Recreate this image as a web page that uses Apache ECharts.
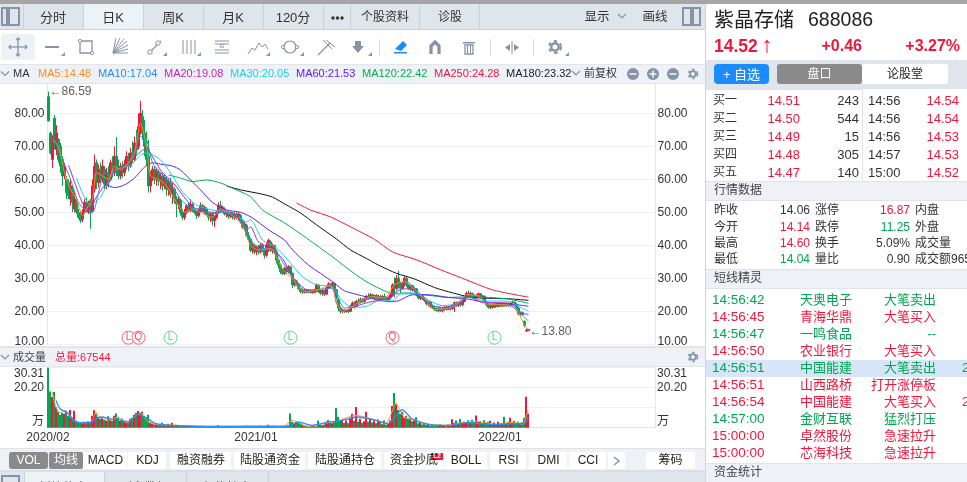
<!DOCTYPE html>
<html><head><meta charset="utf-8">
<script src="https://cdn.jsdelivr.net/npm/echarts@6/dist/echarts.min.js"></script>
<style>html,body{margin:0;padding:0;background:#fff;overflow:hidden}#c{width:967px;height:482px}</style>
</head><body><div id="c"></div>
<script>
// [open, close, low, high]
const candles=[[85,77.7,77.5,86.59],[74,68,67.5,74.5],[66,72,63.4,73.4],[78.5,71,69,79.5],[69,74,67.4,76.4],[72,66,65,72.5],[70,64,62,71],[66,61,58,67],[61,64,60,65],[60,56,54,61],
[59,55,54,60],[54,58,52,60],[57,53,50,58],[51,54,50,56],[53,50,49.5,54.5],[50,48.5,48,51],[49,47.5,46.8,50.5],[48,50,47,51],[50,53,49.5,54],[53,50.5,50,54.5],
[50,52.5,49.5,53.5],[53.5,50,45,54],[50.5,58,50,60],[57,64,56,67.5],[65,59,57,66],[59,63,57.5,64.5],[63,60,58.5,65],[60,64,59,66],[63,58.5,57,64],[58,62,57,63.5],
[62,59,57.5,64],[60,65,59.5,66],[65,62,60.5,67],[62,67,61,70],[67,63,61,72.8],[63,61,60,66],[61,64,60,65],[64,62,60.5,65.5],[62,64.5,61,66],[64,67,63,68.5],
[67,64,62.5,68],[64,68,63.5,69.5],[68,66,65,71.5],[66,71,65.5,73],[71,69,67.5,75],[70,76,69,80],[75,80,73.5,83.8],[79,74,72,81],[74,70,67,78],[70,66,64,74.5],
[67,58,56,72],[58,61,56,62.5],[61,63,59.5,64],[63,60,58.5,64],[60,62.5,58,63.5],[62,59.5,58,63],[59.5,61,57,62],[61,58,56.5,62],[58,60.5,57,61.5],[60,57,55,61],
[57,59,55,60],[59,55.5,54.5,60.5],[55.5,57,52.5,58.8],[57,54,52.7,57.5],[54,52.5,48.5,55],[52.5,54,51,54.7],[53.5,50,49,54],[50,48.5,47.7,51],[48.5,50,47.7,51],[50,52,49.5,52.5],
[52,50.5,50,53],[50.5,52.5,50,54],[52.5,51,50,53],[51,50,49.5,51.5],[50,49,48,50.5],[49,50.5,48.5,51],[50.5,52,50,53],[52,50.5,50,52.5],[50.5,51.5,49.5,52],[51,49.5,49,51.5],
[49.5,48.5,47.5,50],[48.5,49.5,47,50],[49.5,47.5,46,50],[47.5,48.5,45.5,49],[48.5,50,48,50.5],[50,52,49.5,53],[52,50.5,50,53.5],[50.5,51.5,50,52],[51,49.5,49,51.5],[49.5,50.3,48.5,50.5],
[50,48.8,48,50.3],[48.8,49.8,48.3,50.2],[49.5,48.5,47.8,50],[48.5,49.5,47.7,50],[49.5,48.5,48,50],[48.5,49.5,47.8,50],[49,47.5,47,49.5],[47.5,45.5,45,48],[45.5,46.5,44.5,47],[46,43,42.5,46.5],
[43,41.8,41.5,44],[41.8,38.5,38,42],[38.5,40,37.5,40.6],[40,38,37.3,40.5],[38,39.5,37,40],[39.5,38,37.2,40.2],[38,40,37.5,40.5],[40,38.5,38,40.6],[38.5,37,36,39],[37,40,36.5,41],
[40,41.5,38,42],[41,38.5,38,41.5],[38.5,40,37.5,40.5],[40,38,37.5,40],[38,35.5,34.5,38.6],[35.5,34,33,36],[34,32,31.3,34.5],[32,31.5,31,32.8],[31.5,33,31,33.5],[33,32,31.5,33.5],
[32,33.5,31.5,34],[33.5,31.5,31,33.8],[31.5,28,27,31.8],[28,29.5,27.5,29.8],[29,28,27.8,29.5],[28,26.8,26.5,28.5],[26.8,26,25.5,27],[26,26.5,25.3,26.8],[26.5,25.8,25.4,26.8],[25.8,26.5,25.5,26.7],
[26.5,25.8,25.5,26.8],[25.8,26.3,25.4,26.6],[26.3,25.7,25.3,26.5],[25.7,26.5,25.5,26.8],[26.5,28,26,28.4],[28,26,25.6,28.2],[26,25.5,25,26.5],[25.5,26.3,24.7,26.6],[26.3,25.2,24.6,26.5],[25.2,27,25,27.5],
[27,28.3,26.8,28.8],[28.3,27.5,27,28.6],[27.5,28.4,27,29],[28.4,26.5,26,28.6],[26.5,24,23.5,26.8],[23.5,21,20,24],[21,20,19.3,21.5],[20,20.4,19.5,20.8],[20.4,19.9,19.5,20.6],[19.9,20.3,19.6,20.5],
[20.3,20,19.5,20.6],[20,21.5,19.8,22],[21.5,22.5,21,23],[22.5,21.5,20.8,23],[21.5,23,21.3,23.5],[23,22.8,22.4,24],[22.8,23.5,22.4,24.2],[23.5,23,22.6,24],[23,23.8,22.6,24.2],[23.8,24.5,23.4,25],
[24.5,24,23.5,25.5],[24,25,23.7,25.5],[25,24,23.6,25.3],[24,24.8,23.4,25],[24.8,24,23.5,25.2],[24,24.5,23.5,25],[24.5,23.6,23,25],[23.6,24.5,23.2,25],[24.5,24,23.4,25.4],[24,23.5,23,24.5],
[23.5,24.2,23,24.6],[24.2,25,23.6,25.5],[25,28,24.5,28.5],[28,27,24.2,30.3],[27,30,26.5,31],[30,28,27,32.3],[28,27,25.5,29],[27,28.5,26.5,29],[28.5,30,27.5,30.8],[30,28,27.3,30.5],
[28,27,26.5,28.3],[27,27.8,26.2,28.1],[27.8,26.5,26,28],[26.5,26.8,25.8,27.3],[26.8,25,24.5,27],[25,24,23.6,25.3],[24,24.7,23.4,25],[24.7,24,23.5,25],[24,23.2,22.8,24.3],[23.2,22.2,21.8,23.5],
[22.2,22.8,21.5,23],[22.8,21.5,21,23],[21.5,21,20.8,22],[21,20.5,20.2,21.3],[20.5,20.2,19.9,21],[20.2,20.8,19.7,21],[20.8,20.2,19.8,21],[20.2,20.6,19.7,20.8],[20.6,21.2,20.2,21.5],[21.2,20.6,20.2,21.7],
[20.6,21.2,20.3,21.7],[21.2,20.8,20.2,21.6],[20.8,21.8,20.5,22.2],[21.8,22.6,19.8,23],[22.6,21.8,21.3,23],[21.8,22.6,21.3,23],[22.6,22,21.5,23],[22,23,21.5,23.4],[23,24.5,22.8,25],[24.5,25.5,24.2,26],
[25.5,24.6,24.2,26.3],[24.6,25.4,24.2,26],[25.4,24.5,24.2,25.7],[24.5,24,23.7,25],[24,24.8,23.8,25.2],[24.8,25.3,24.4,25.7],[25.3,24.2,23.8,25.5],[24.2,24.6,23.7,25],[24.6,22.8,22.5,24.8],[22.8,22,21.5,23],
[22,21.2,20.8,22.3],[21.2,21.8,20.7,22.2],[21.8,21.2,20.8,22.2],[21.2,22,21,22.4],[22,21.5,21.2,22.5],[21.5,22.2,21.2,22.7],[22.2,21.6,21.3,22.6],[21.6,22.2,21.3,22.7],[22.2,21.7,21.4,22.6],[21.7,22.3,21.4,22.7],
[22.3,21.8,21.3,22.7],[21.8,22.4,21.5,22.9],[22.4,22.8,22,23.2],[22.8,22.1,21.7,23],[22.1,21,20.7,22.5],[21,19.2,18.8,21.2],[19.2,19.6,18.7,20],[19.6,19,18.7,20],[17,15.8,15.2,17.2],[14,14.2,13.8,14.8],
[14.14,14.52,14.04,14.6]];
const volumes=[30.3,18.3,15.5,18,10.5,8,6.5,7.5,7,8.5,
6,9,5,8.5,3.5,3,2.6,2.3,3,2.5,
3.2,2.4,6,8.8,7,5.5,4.5,5,4,3.5,
5.8,4,3.5,6,7.2,5,3.5,4.5,3,3.5,
2.5,4.5,5,6.5,7.5,8.4,7.5,8,6,5,
6.5,3,2.5,1.8,2.2,1.5,1.8,2.5,1.6,1.2,
2,1.5,2.5,1.3,1.5,1.1,1,1.4,1.2,1,
1.3,.9,1.1,.8,1,.6,.7,1,.5,.8,
.6,.9,.7,.5,.8,1.2,.6,.5,.7,.9,
.5,.6,.4,.7,.5,.8,.6,.9,.7,1.1,
.9,.7,1,.6,.8,.7,1.1,.8,.6,1,
1.5,.9,.7,.8,.6,.9,.7,.5,.8,1,
1.2,7.2,3,2.2,2.6,2.8,2.4,1.5,.9,.7,
.8,.6,.9,.7,.6,3.5,1.8,1.2,1.6,2.4,
3.8,2.6,2.2,3,10,5.5,3.4,4,2.4,3.6,
2.2,5,7,3.5,10.5,3,4.5,2.4,3.2,8,
3,4.8,2.6,3.8,2.2,4.2,3,1.8,3.6,1.5,
2.4,3.6,11,17.5,12,9,7,8,5,6,
4.5,4.8,3.2,3.8,5.3,2.2,3,1.6,2.4,1.4,
2,1,1.6,.8,1.5,1.2,1.8,.9,1.3,.7,
1.6,1,4.3,2.2,3.6,2.4,4.4,2,3,2.6,
3.8,2.5,4,2.7,6.2,2.8,3.4,2.2,3.7,2.4,
3,3.5,1.8,2.6,1.6,3,2,2.4,5.5,2.2,
3,5,2.6,3.5,2.2,3,2.4,2.8,5,15.6,
7];
// moving averages: [candle index, value]
const ma5=[[2,72],[5,70],[8,62],[11,57],[14,54],[17,49],[20,52],[22,54],[24,62],[27,61],[30,60],[33,64],[36,63],[40,65],[43,68],[46,77],[49,70],[51,61],[55,60],[59,58],[64,53],[68,50],[72,51],[76,50],[82,48.5],[86,51],[92,49],[97,46],[101,40],[105,38.5],[111,39],[115,35],[118,32],[122,30],[125,27],[129,26],[135,26.5],[141,28],[144,23],[147,20],[151,21],[156,23.2],[162,24.5],[168,24],[173,28],[178,29],[183,26.5],[188,23.8],[193,20.5],[199,20.8],[204,22],[209,25],[215,24.6],[220,22],[228,22],[234,20.5],[237,17],[239,15],[240,14.48]];
const ma10=[[3,72],[7,66],[11,60],[15,53],[18,51],[22,50],[25,56],[28,62],[31,61],[35,63],[38,64],[42,66],[46,73],[49,72],[52,65],[56,62],[61,59],[66,54],[71,51.5],[76,51],[81,49.5],[86,50],[92,49.8],[97,47],[101,42],[105,39],[111,39],[116,36],[119,33],[123,29.5],[128,26.5],[133,26.5],[141,27],[144,25],[148,21],[153,21.5],[158,23.3],[165,24.3],[171,24],[175,27],[179,29],[183,27],[188,24],[193,21.5],[200,20.8],[205,22],[210,25],[216,24.6],[221,22],[228,22],[233,21.5],[237,18.8],[240,17.04]];
const ma20=[[10,64.3],[13,59.2],[17,52.8],[20,50.7],[24,54.7],[30,59.8],[33,62.2],[40,65],[46,68.3],[49,69.5],[52,66.8],[57,62],[62,59.2],[69,53.7],[74,50.7],[82,50],[92,49.9],[99,44.6],[101,45.6],[105,41],[111,39.2],[117,36],[122,30.5],[129,26.5],[136,26],[142,27.4],[144,22.4],[148,20.2],[153,21.4],[160,22.7],[168,23.7],[172,24.7],[177,26.8],[182,26.5],[187,23.7],[192,21.7],[198,21.2],[205,22.4],[210,24.4],[217,22.7],[230,22.4],[235,19.7],[240,19.08]];
const ma30=[[14,60.4],[17,55.8],[21,52.2],[26,54.7],[30,59.3],[33,62.8],[41,64.3],[46,67.4],[49,68],[56,65.9],[61,62],[67,56.2],[74,52.2],[82,50.7],[92,49.8],[99,47.1],[101,47.7],[107,41.6],[114,39.2],[121,34.6],[127,30.5],[134,28],[142,27.4],[146,23.8],[150,21.7],[155,21.2],[160,21.7],[165,23.2],[172,23.2],[177,25.8],[183,25.5],[190,23.4],[197,21.7],[203,22.2],[210,24.2],[218,23.2],[230,23],[236,21.2],[240,20.05]];
const ma60=[[29,58.3],[33,57.5],[38,58.3],[43,60.4],[48,63.7],[52,65],[56,64.6],[62,64],[66,62.8],[72,59.2],[76,56.8],[82,53],[89,50.7],[96,50],[102,48.3],[110,44.7],[118,41.6],[122,38.6],[130,34],[136,31.5],[143,28.5],[148,26.2],[153,25.3],[160,24.2],[165,23.4],[171,22.9],[175,23.2],[182,25],[190,25],[200,24.2],[210,23.7],[218,22.7],[227,22.4],[234,22],[240,21.53]];
const ma120=[[60,61.3],[66,60.4],[72,59.3],[79,59.8],[86,58.9],[92,57.3],[101,54.7],[107,50.7],[118,46.8],[129,42.2],[142,36.5],[153,31.4],[160,28.6],[168,26.2],[173,25.3],[182,25.3],[192,24.7],[200,24.2],[210,24.4],[220,24.2],[230,23.7],[240,22.42]];
const ma180=[[89,58],[96,56.8],[106,55.6],[112,54.6],[119,52.2],[126,49.8],[134,46.2],[144,41.9],[151,38.6],[159,36],[165,34],[174,31.5],[183,29.8],[193,27.2],[202,25.6],[210,24.4],[218,24],[230,23.8],[240,23.32]];
const ma250=[[124,52.8],[131,50.7],[141,48.6],[151,45.6],[163,41.8],[172,38],[184,35.6],[196,32.6],[207,30],[222,26.5],[240,24.28]];
const volMaA=[[2,18.3],[4,10.4],[6,7.6],[8,8.7],[11,5.4],[15,2.5],[20,2.5],[22,3.7],[24,7.9],[26,5.4],[30,3.7],[35,5.4],[39,2.5],[43,5.4],[46,7.4],[50,2.9],[55,1.5],[65,1.2],[82,.7],[100,.8],[118,.9],[122,3.7],[130,.7],[137,2],[144,3.2],[154,6.2],[160,4.9],[169,2.5],[174,12.1],[178,5.4],[184,3.7],[192,1.5],[200,1.2],[207,2.5],[215,3.2],[224,1.7],[234,2.9],[237,1.5],[240,8.8]];
const volMaB=[[4,13.8],[6,9.6],[10,7.4],[13,3.7],[16,2.5],[21,2.5],[24,4.5],[27,5.4],[31,4.5],[35,4.2],[40,2.9],[45,6.6],[50,4.5],[54,2],[62,1.2],[79,.7],[99,.7],[120,.7],[125,2.9],[132,1.2],[139,2.5],[147,3.7],[155,5.4],[164,3.7],[170,2],[174,6.2],[177,9.1],[182,4.5],[190,1.7],[200,1.2],[210,2.5],[220,1.7],[234,2],[238,2],[240,5.4]];
const tickLabels={0:'2020/02',104:'2021/01',226:'2022/01'};
const priceTicks={10:'10.00',20:'20.00',30:'30.00',40:'40.00',50:'50.00',60:'60.00',70:'70.00',80:'80.00'};
const markers=[[40,'L','r'],[45,'Q','r'],[61,'L','g'],[121,'L','g'],[172,'Q','r'],[223,'L','g']];
const extremes=[[0,86.59,'←86.59'],[240,13.8,'←13.80']];
const tabs=['分时','日K','周K','月K','120分'];
const legendTexts=['MA5:14.48','MA10:17.04','MA20:19.08','MA30:20.05','MA60:21.53','MA120:22.42','MA250:24.28','MA180:23.32'];
const indicatorTabs=['MACD','KDJ','融资融券','陆股通资金','陆股通持仓','资金抄底','BOLL','RSI','DMI','CCI'];
const bidRows=[['买一','14.51','243','14:56','14.54'],['买二','14.50','544','14:56','14.54'],['买三','14.49','15','14:56','14.53'],['买四','14.48','305','14:57','14.53'],['买五','14.47','140','15:00','14.52']];
const statRows=[['昨收','14.06','涨停','16.87','内盘'],['今开','14.14','跌停','11.25','外盘'],['最高','14.60','换手','5.09%','成交量'],['最低','14.04','量比','0.90','成交额965']];
const spriteRows=[['14:56:42','天奥电子','大笔卖出',0,''],['14:56:45','青海华鼎','大笔买入',1,''],['14:56:47','一鸣食品','--',0,''],['14:56:50','农业银行','大笔买入',1,''],['14:56:51','中国能建','大笔卖出',0,'2'],['14:56:51','山西路桥','打开涨停板',1,''],['14:56:54','中国能建','大笔买入',1,'2'],['14:57:00','金财互联','猛烈打压',0,''],['15:00:00','卓然股份','急速拉升',1,''],['15:00:00','芯海科技','急速拉升',1,'']];

const FF='"Liberation Sans","Noto Sans CJK SC",sans-serif';
const RED='#f5153a',GRN='#00a651',INK='#333',ICO='#8593a8',BAR='#eef2f6',TAB='#dfe5eb',LINE='#d5dbe2';
const categories=Array.from({length:304},(_,i)=>tickLabels[i]||'');
const G=[];
function T(x,y,text,o={}){G.push({type:'text',x,y,z:110,silent:true,style:{text,fill:o.c||INK,fontSize:o.s||12,fontWeight:o.w||'normal',fontFamily:FF,align:o.a||'left',verticalAlign:'middle'}});}
function R(x,y,w,h,fill,o={}){G.push({type:'rect',z:o.z||100,silent:true,shape:{x,y,width:w,height:h,r:o.r||0},style:{fill:fill,stroke:o.st||null,lineWidth:o.lw||1}});}
function P(pts,o={}){G.push({type:'polyline',z:105,silent:true,shape:{points:pts},style:{stroke:o.c||ICO,lineWidth:o.lw||1.3,fill:null}});}
function C(x,y,r,o={}){G.push({type:'circle',z:o.z||105,silent:true,shape:{cx:x,cy:y,r},style:{fill:o.f||null,stroke:o.c||null,lineWidth:o.lw||1,lineDash:o.d||null}});}
function gear(x,y,s){C(x,y,s*0.62,{c:ICO,lw:s*0.4});C(x,y,s,{c:ICO,lw:s*0.35,d:[s*0.55,s*0.55]});}
function corner(x,y){G.push({type:'polygon',z:105,silent:true,shape:{points:[[x,y+4],[x+4,y],[x+4,y+4]]},style:{fill:ICO}});}
function chevron(x,y,c){P([[x-4,y-2],[x,y+2],[x+4,y-2]],{c:c||ICO,lw:1.2});}
function toggle(x){R(x,8,17,17,'none',{st:ICO,lw:2,z:105});}

// top bars
R(0,0,967,4,'#a6a6a6',{z:120});
R(0,4,705,25,TAB);
R(0,29,705,36,'#fff');
R(83,4,60,25,'#edf2f7');
[23,83,143,203,263,323,350,419,479].forEach(x=>R(x,4,1,25,'#c9d1da',{z:101}));
R(0,29,705,1,'#c9d1da',{z:101});
toggle(2);R(6,9,4,15,ICO,{z:106});
tabs.forEach((t,i)=>T(53+60*i,18,t,{s:13,a:'center'}));
[333,337.5,342].forEach(x=>C(x,18,1.7,{f:'#333'}));
T(385,18,'个股资料',{s:12,a:'center'});T(450,18,'诊股',{s:12,a:'center'});
T(597,18,'显示',{s:12.5,a:'center'});chevron(622,16);T(655,18,'画线',{s:12.5,a:'center'});
toggle(683);R(690,9,4,15,ICO,{z:106});

// toolbar icons
R(1,34,34,26,BAR,{r:3});
P([[9,47],[27,47]]);P([[18,38],[18,56]]);P([[11,45],[9,47],[11,49]]);P([[25,45],[27,47],[25,49]]);P([[16,40],[18,38],[20,40]]);P([[16,54],[18,56],[20,54]]);
P([[45,47],[59,47]],{lw:2});corner(61,52);
G.push({type:'rect',z:105,silent:true,shape:{x:80,y:41,width:12,height:12},style:{fill:null,stroke:ICO,lineWidth:1.3}});C(80,41,1.6,{f:'#fff',c:ICO});C(92,53,1.6,{f:'#fff',c:ICO});
[[127,41],[124,39],[120,38],[116,38],[128,45],[128,49],[128,53]].forEach(p=>P([[113,53],p],{lw:1}));
P([[148,54],[161,41]]);C(150,52,2.2,{f:'#fff',c:ICO});C(158,43,2.2,{f:'#fff',c:ICO});corner(163,52);
[183,187,191,195].forEach(x=>P([[x,40],[x,54]],{lw:1}));corner(197,52);
[41,44,50,53].forEach(y=>P([[215,y],[229,y]],{lw:1}));T(222,46.5,'G',{s:6,a:'center',c:ICO,w:'bold'});
P([[248,54],[252,48],[255,50],[259,43],[262,47],[265,44],[268,49]],{lw:1});corner(266,52);
C(290,47,6,{c:ICO,lw:1.2});C(283,47,1.6,{f:'#fff',c:ICO});C(297,47,1.6,{f:'#fff',c:ICO});corner(300,52);
P([[318,55],[330,43]]);P([[323,40],[332,49]],{lw:1});P([[326,40],[335,47]],{lw:1});
R(355,41,6,6,ICO);G.push({type:'polygon',z:105,silent:true,shape:{points:[[352,46],[364,46],[358,53]]},style:{fill:ICO}});corner(368,52);
R(379,39,1,17,LINE);
G.push({type:'polygon',z:105,silent:true,shape:{points:[[395,49],[403,41],[407,45],[401,51]]},style:{fill:'#1a8cff'}});R(394,52,13,1.5,'#1a8cff');
P([[431,54],[431,46],[435,42],[439,46],[439,54]],{lw:3.2});
R(463,42,12,1.5,ICO);R(465,45,8,9,'none',{st:ICO,lw:1.3,z:105});P([[467.5,46],[467.5,53]],{lw:1});P([[470.5,46],[470.5,53]],{lw:1});
R(490,39,1,17,LINE);R(533,39,1,17,LINE);
P([[512,41],[512,54]],{lw:1});G.push({type:'polygon',z:105,silent:true,shape:{points:[[505,47.5],[510,44],[510,51]]},style:{fill:ICO}});G.push({type:'polygon',z:105,silent:true,shape:{points:[[519,47.5],[514,44],[514,51]]},style:{fill:ICO}});
gear(555,47,6);corner(565,52);

// MA row
R(0,64,705,20,BAR);R(0,64,705,1,'#e2e5e9',{z:101});R(0,83,705,1,'#e2e5e9',{z:101});
chevron(5,73.5);T(13,73.5,'MA',{s:11});
const legendX=[38,98,164,230,296,362,434,506],legendC=['#ff8c1a','#1e90ff','#c71fb5','#16d4ee','#5a1fff','#00b050',RED,'#222'];
legendTexts.forEach((t,i)=>T(legendX[i],74,t,{s:11,c:legendC[i]}));
chevron(576,73);T(584,74,'前复权',{s:11});
[633,653,673].forEach((x,i)=>{C(x,74,6,{f:ICO});R(x-3.5,73.3,7,1.4,'#fff',{z:106});if(i==1)R(x-0.7,70.5,1.4,7,'#fff',{z:106});});
gear(693,74,4.5);

// axis side columns & volume header
R(0,346,705,21,BAR,{z:99});R(0,346,705,2,'#e3e5e8',{z:101});R(0,366,705,1,'#e3e5e8',{z:101});
chevron(5,357);T(13,357.5,'成交量',{s:11,c:'#444'});T(55,357.5,'总量:67544',{s:11,c:RED});gear(693,357,4.5);

// indicator row
R(0,448,705,24,'#eef2f6');R(0,448,705,1,'#dfe3e8',{z:101});R(0,470,705,2,'#d9dfe6',{z:101});
R(9,452,39,17,'#8a8a8a',{r:3});R(49,452,34,17,'#8a8a8a',{r:2});
T(28.5,461,'VOL',{a:'center',c:'#fff',s:12});T(66,461,'均线',{a:'center',c:'#fff',s:12});
const indX=[[83,128],[128,167],[170,232],[234,306],[308,382],[384,444],[444,488],[490,527],[529,568],[569,607]];
indicatorTabs.forEach((t,i)=>{const a=indX[i];R(a[0],452,a[1]-a[0]-1,17,'#fff');T((a[0]+a[1])/2,461,t,{a:'center',s:12,c:'#222'});});
R(431,453,12,7,'#f5153a');T(437,456.5,'L2',{a:'center',s:6.5,c:'#fff',w:'bold'});
R(608,452,17,17,'#fff');P([[614,457],[619,461],[614,465]],{c:ICO,lw:1.6});
R(646,452,49,17,'#fff',{r:3});T(670.5,461,'筹码',{a:'center',s:12,c:'#222'});

// bottom cut tabs
R(0,472,705,10,TAB);R(24,472,80,10,'#edf2f7');[24,104,186,268].forEach(x=>R(x,472,1,10,'#c9d1da',{z:101}));
R(2,476,17,10,'none',{st:ICO,lw:2,z:105});
['板块热点','财务数据','机构持仓'].forEach((t,i)=>T([63,145,227][i],489,t,{a:'center',s:12}));

// right panel
R(705,4,262,478,'#fff',{z:98});R(705,4,1,478,'#cfd5dc',{z:101});
T(714,21,'紫晶存储',{s:20,c:'#222'});T(808,21,'688086',{s:19.5,c:'#222'});
T(714,47,'14.52',{s:17.5,c:RED,w:'bold'});T(767,46,'↑',{s:22,c:RED,a:'center'});
T(862,47,'+0.46',{s:16,c:RED,a:'right',w:'bold'});T(960,47,'+3.27%',{s:16,c:RED,a:'right',w:'bold'});
R(706,60,261,29,TAB);
R(714,64,55,20,'#1a8cff',{r:4,z:101});T(741.5,75,'+ 自选',{a:'center',c:'#fff',s:13});
R(777,64,85,20,'#8a8a8a',{r:3,z:101});T(819.5,75,'盘口',{a:'center',c:'#fff',s:12});
R(862,64,86,20,'#fff',{r:3,z:101});T(905,75,'论股堂',{a:'center',s:12,c:'#222'});
R(862,89,1,92,'#dfe3e8',{z:101});R(706,89,156,1,'#dfe3e8',{z:101});
bidRows.forEach((r,i)=>{const y=101+18*i;T(713,y,r[0],{s:12});T(800,y,r[1],{s:13,c:RED,a:'right'});T(859,y,r[2],{s:13,a:'right'});T(868,y,r[3],{s:13});T(959,y,r[4],{s:13,c:RED,a:'right'});});
function section(y,t){R(706,y-10,261,20,BAR,{z:100});R(706,y-10,261,1,'#e0e4e9',{z:101});R(706,y+9,261,1,'#e0e4e9',{z:101});T(714,y,t,{s:12,c:'#444'});}
section(191,'行情数据');
const statY=[211,228,244,260];
statRows.forEach((r,i)=>{const y=statY[i];T(714,y,r[0],{s:12});T(810,y,r[1],{s:12,a:'right',c:i==0?INK:(i==1||i==2?RED:GRN)});T(815,y,r[2],{s:12});T(910,y,r[3],{s:12,a:'right',c:i==0?RED:(i==1?GRN:INK)});T(915,y,r[4],{s:12});});
section(279,'短线精灵');
const spriteY=[300,317.5,334.5,351,368.5,385.5,402.5,419.5,436.5,453];
R(706,360,261,17,'#d6e6f8',{z:100});
spriteRows.forEach((r,i)=>{const y=spriteY[i],c=r[3]?RED:GRN;T(712,y,r[0],{s:13.5,c});T(826,y,r[1],{s:13,c,a:'center'});T(936,y,r[2],{s:13,c,a:'right'});if(r[4])T(962,y,r[4],{s:13,c});});
section(473,'资金统计');

const ml=(name,data,color,xi,yi,w)=>({name,type:'line',data,xAxisIndex:xi,yAxisIndex:yi,showSymbol:false,smooth:0.25,lineStyle:{color,width:w||1},itemStyle:{color},z:5,silent:true,animation:false});
const baseX=(gi,show)=>({type:'category',gridIndex:gi,data:categories,boundaryGap:true,
  axisTick:{show:false},splitLine:{show:false},
  axisLine:{show:show,lineStyle:{color:'#dfe3e8'}},
  axisLabel:{show:show,interval:(i)=>!!tickLabels[i],fontSize:12,color:INK,fontFamily:FF,margin:4}});
const priceY=(pos)=>({type:'value',gridIndex:0,position:pos,min:10,max:90,interval:10,
  axisLine:{show:true,lineStyle:{color:'#e2e5ea'}},axisTick:{show:false},
  splitLine:{show:pos==='left',lineStyle:{color:'#eef0f3'}},
  axisLabel:{fontSize:12,color:INK,fontFamily:FF,margin:pos==='left'?3:2,
    formatter:v=>v===10?'{m|10.00}':(priceTicks[v]||''),
    rich:{m:{fontSize:12,color:INK,fontFamily:FF,padding:[0,0,6,0]}}}});
const volY=(pos)=>({type:'value',gridIndex:1,position:pos,min:0,max:30.3,interval:10.1,
  axisLine:{show:true,lineStyle:{color:'#e2e5ea'}},axisTick:{show:false},
  splitLine:{show:pos==='left',lineStyle:{color:'#eef0f3'}},
  axisLabel:{fontSize:12,color:INK,fontFamily:FF,margin:pos==='left'?3:2,verticalAlignMaxLabel:'top',verticalAlignMinLabel:'bottom',
    formatter:v=>v===0?'万':(v>30?'30.31':(v>20?'20.20':''))}});

const chart=echarts.init(document.getElementById('c'),null,{renderer:'canvas'});
chart.setOption({
  animation:false,backgroundColor:'#fff',textStyle:{fontFamily:FF},
  grid:[{left:47.5,width:608,top:80.3,height:264},{left:47,width:608,top:367.7,height:60}],
  xAxis:[baseX(0,false),baseX(1,true)],
  yAxis:[priceY('left'),priceY('right'),volY('left'),volY('right')],
  graphic:{elements:G},
  series:[
    {name:'K',type:'candlestick',data:candles,xAxisIndex:0,yAxisIndex:0,barWidth:2,z:3,silent:true,animation:false,
     itemStyle:{color:RED,color0:GRN,borderColor:RED,borderColor0:GRN,borderWidth:1}},
    ml('MA250',ma250,RED,0,0),ml('MA180',ma180,'#111',0,0),ml('MA120',ma120,'#00b050',0,0),ml('MA60',ma60,'#5a1fff',0,0),
    ml('MA30',ma30,'#16d4ee',0,0),ml('MA20',ma20,'#c71fb5',0,0),ml('MA10',ma10,'#1e90ff',0,0),ml('MA5',ma5,'#ff8c1a',0,0),
    {name:'标记',type:'scatter',xAxisIndex:0,yAxisIndex:0,z:6,silent:true,symbol:'circle',symbolSize:13,
     data:markers.map(m=>({value:[m[0],12],label:{formatter:m[1],color:m[2]==='r'?RED:'#2fbf71'},itemStyle:{borderColor:m[2]==='r'?'#f5405e':'#3ccc7e'}})),
     itemStyle:{color:'rgba(255,255,255,0.85)',borderWidth:1},label:{show:true,position:'inside',fontSize:10,fontFamily:FF}},
    {name:'极值',type:'scatter',xAxisIndex:0,yAxisIndex:0,z:7,silent:true,symbol:'circle',symbolSize:0,clip:false,
     data:extremes.map(e=>({value:[e[0],e[1]],label:{formatter:e[2]}})),
     label:{show:true,position:'right',distance:1,fontSize:12,color:INK,fontFamily:FF}},
    {name:'成交量',type:'bar',data:volumes,xAxisIndex:1,yAxisIndex:2,barWidth:2,z:3,silent:true,animation:false,
     itemStyle:{color:p=>candles[p.dataIndex][1]>=candles[p.dataIndex][0]?RED:GRN}},
    ml('VOLMA5',volMaA,'#ff9a2e',1,2),ml('VOLMA10',volMaB,'#1e90ff',1,2,1.3)
  ]
});
</script></body></html>
